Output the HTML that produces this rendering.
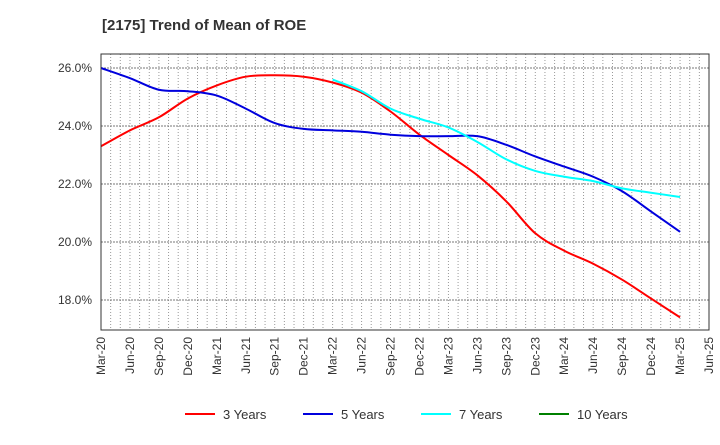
<!DOCTYPE html>
<html><head><meta charset="utf-8"><style>
body{margin:0;background:#fff;font-family:"Liberation Sans",sans-serif;}
</style></head><body>
<svg width="720" height="440" xmlns="http://www.w3.org/2000/svg">
<text x="102" y="30" font-size="15" font-weight="bold" fill="#333">[2175]  Trend of Mean of ROE</text>
<g id="grid"></g>
<g id="series"></g>
<rect x="101" y="54" width="608" height="276" fill="none" stroke="#333" stroke-width="1"/>
<g id="axes"></g>
<g id="legend"></g>
</svg>
<script>
const xLabels=["Mar-20","Jun-20","Sep-20","Dec-20","Mar-21","Jun-21","Sep-21","Dec-21","Mar-22","Jun-22","Sep-22","Dec-22","Mar-23","Jun-23","Sep-23","Dec-23","Mar-24","Jun-24","Sep-24","Dec-24","Mar-25","Jun-25"];
const yTicks=[18,20,22,24,26];
const y3=[23.3,23.85,24.3,24.95,25.4,25.7,25.75,25.7,25.5,25.15,24.5,23.7,23.0,22.3,21.4,20.3,19.7,19.25,18.7,18.05,17.4];
const y5=[26.0,25.65,25.25,25.2,25.05,24.6,24.1,23.9,23.85,23.8,23.7,23.65,23.65,23.65,23.35,22.95,22.6,22.25,21.75,21.05,20.35];
const y7=[null,null,null,null,null,null,null,null,25.6,25.2,24.6,24.25,23.95,23.45,22.85,22.45,22.25,22.1,21.85,21.7,21.55];
const y10=[];
const NS="http://www.w3.org/2000/svg";
const X0=101,QW=(709-101)/21;
const xs=i=>X0+i*QW;
const ys=v=>68+(26-v)*29;
function mk(t,a,p){const e=document.createElementNS(NS,t);for(const k in a)e.setAttribute(k,a[k]);p.appendChild(e);return e;}
const grid=document.getElementById('grid'),axes=document.getElementById('axes');
for(let m=1;m<63;m++){const x=X0+m*QW/3;
const l=mk('line',{x1:x,x2:x,y1:54,y2:330,stroke:'#999','stroke-width':1,'stroke-dasharray':'1,2'},grid);

}
yTicks.forEach(v=>{const y=ys(v);
const l=mk('line',{x1:101,x2:709,y1:y,y2:y,stroke:'#777','stroke-width':1,'stroke-dasharray':'2,1'},grid);


const t=mk('text',{x:92,y:y+4,'text-anchor':'end','font-size':12,fill:'#333'},axes);t.textContent=v.toFixed(1)+'%';

});
xLabels.forEach((s,i)=>{const x=xs(i);
const t=mk('text',{x:0,y:0,'text-anchor':'end','font-size':12,fill:'#333',transform:`translate(${x+4},337) rotate(-90)`},axes);t.textContent=s;

});
const ser=document.getElementById('series');
function draw(d,c,n){const P=[];d.forEach((v,i)=>{if(v!=null)P.push([xs(i),ys(v)]);});if(!P.length)return;
let s='M'+P[0][0]+','+P[0][1];
for(let i=0;i<P.length-1;i++){const p0=P[Math.max(0,i-1)],p1=P[i],p2=P[i+1],p3=P[Math.min(P.length-1,i+2)];const k=1/6;
s+=` C${p1[0]+(p2[0]-p0[0])*k},${p1[1]+(p2[1]-p0[1])*k} ${p2[0]-(p3[0]-p1[0])*k},${p2[1]-(p3[1]-p1[1])*k} ${p2[0]},${p2[1]}`;}
const p=mk('path',{d:s,fill:'none',stroke:c,'stroke-width':2,'stroke-linejoin':'round'},ser);

}
draw(y3,'#ff0000','line-3-years');draw(y5,'#0000dd','line-5-years');draw(y7,'#00ffff','line-7-years');draw(y10,'#008000','line-10-years');
const leg=document.getElementById('legend');
[["3 Years","#ff0000",185],["5 Years","#0000dd",303],["7 Years","#00ffff",421],["10 Years","#008000",539]].forEach(([s,c,x])=>{
const g=mk('g',{},leg);


mk('line',{x1:x,x2:x+30,y1:414,y2:414,stroke:c,'stroke-width':2},g);
const t=mk('text',{x:x+38,y:419,'font-size':13,fill:'#333'},g);t.textContent=s;});
</script>
</body></html>
